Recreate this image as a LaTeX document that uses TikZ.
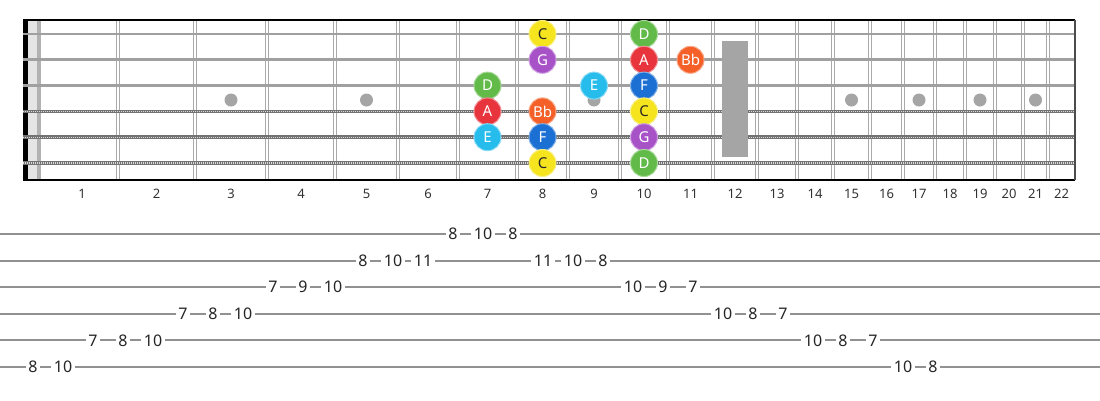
\documentclass[tikz,border=0pt]{standalone}
\usepackage{fontspec}
\setmainfont{Noto Sans}
\definecolor{noteC}{RGB}{245,228,30}
\definecolor{noteD}{RGB}{98,186,72}
\definecolor{noteG}{RGB}{168,82,200}
\definecolor{noteA}{RGB}{232,52,60}
\definecolor{noteBb}{RGB}{244,96,40}
\definecolor{noteE}{RGB}{38,188,236}
\definecolor{noteF}{RGB}{28,112,212}
\colorlet{inkC}{black!85}
\colorlet{inkD}{white}
\colorlet{inkG}{white}
\colorlet{inkA}{white}
\colorlet{inkBb}{white}
\colorlet{inkE}{white}
\colorlet{inkF}{white}
\definecolor{inlay}{RGB}{165,165,165}
\definecolor{stringgray}{RGB}{160,160,160}
\definecolor{fretgray}{RGB}{170,170,170}
\definecolor{tabgray}{RGB}{145,145,145}
\definecolor{labelgray}{RGB}{50,50,50}
\begin{document}
\begin{tikzpicture}[x=1pt,y=-1pt,
		note/.style={circle,minimum size=27pt,inner sep=0pt,fill=note#1,draw=note#1!55!white,line width=1pt,text=ink#1,font=\fontsize{15}{15}\selectfont},
		fretnum/.style={text=labelgray,font=\fontsize{13}{13}\selectfont},
		tabnum/.style={fill=white,inner sep=2.5pt,text=black!85,font=\fontsize{16}{16}\selectfont}]
		\useasboundingbox (0,0) rectangle (1100,400);
		% fret centres
		\foreach \n/\a/\b in {1/46/118,2/118/195,3/195/267,4/267/335,5/335/398,6/398/458,7/458/517,8/517/568,9/568/620,10/620/668,11/668/713,12/713/757,13/757/797,14/797/833,15/833/870,16/870/903,17/903/935,18/935/965,19/965/995,20/995/1023,21/1023/1048,22/1048/1075}
			\coordinate (m\n) at ({(\a+\b)/2},0);
		% band next to the nut
		\fill[black!10] (28,20) rectangle (37,180);
		\fill[black!30] (37,20) rectangle (41,180);
		% frets
		\foreach \x in {118,195,267,335,398,458,517,568,620,668,713,757,797,833,870,903,935,965,995,1023,1048}
			\draw[fretgray,line width=1.2pt,double=white,double distance=1.3pt] (\x,20) -- (\x,180);
		% inlays
		\foreach \n in {3,5,7,9,15,17,19,21}
			\fill[inlay] (m\n) ++(0,100) circle[radius=6.5pt];
		% nut
		\fill[black] (23,20) rectangle (28,180);
		% strings
		\foreach \s in {1,2,3}
			\draw[stringgray,line width=2.8pt] (23,{34+25.8*(\s-1)}) -- (1075,{34+25.8*(\s-1)});
		\foreach \s in {4,5,6} {
			\draw[black!55,line width=3.8pt] (23,{34+25.8*(\s-1)}) -- (1075,{34+25.8*(\s-1)});
			\draw[black!15,line width=1.3pt,dash pattern=on 1pt off 1pt] (23,{34+25.8*(\s-1)}) -- (1075,{34+25.8*(\s-1)});
		}
		% 12th fret marker
		\fill[inlay] (722,41) rectangle (748,157);
		% border
		\draw[black,line width=1.5pt] (23,20) -- (1075,20) (23,180) -- (1075,180);
		\draw[black!70,line width=1.5pt] (1075,20) -- (1075,180);
		% fret numbers
		\foreach \n in {1,...,22}
			\path (m\n) ++(0,194) node[fretnum] (fn\n) {\n};
		% notes
		\foreach \s/\f/\c in {1/8/C,1/10/D,2/8/G,2/10/A,2/11/Bb,3/7/D,3/9/E,3/10/F,4/7/A,4/8/Bb,4/10/C,5/7/E,5/8/F,5/10/G,6/8/C,6/10/D}
			\path (m\f) ++(0,{34+25.8*(\s-1)}) node[note=\c] (n\s-\f) {\c};
		% tab lines
		\foreach \s in {1,...,6}
			\draw[tabgray,line width=2pt] (0,{234+26.6*(\s-1)}) -- (1100,{234+26.6*(\s-1)});
		% tab numbers
		\foreach \s/\f [count=\i from 0] in {6/8,6/10,5/7,5/8,5/10,4/7,4/8,4/10,3/7,3/9,3/10,2/8,2/10,2/11,1/8,1/10,1/8,2/11,2/10,2/8,3/10,3/9,3/7,4/10,4/8,4/7,5/10,5/8,5/7,6/10,6/8}
			\node[tabnum] (t\i) at ({33+30*\i},{234+26.6*(\s-1)}) {\f};
\end{tikzpicture}
\end{document}
